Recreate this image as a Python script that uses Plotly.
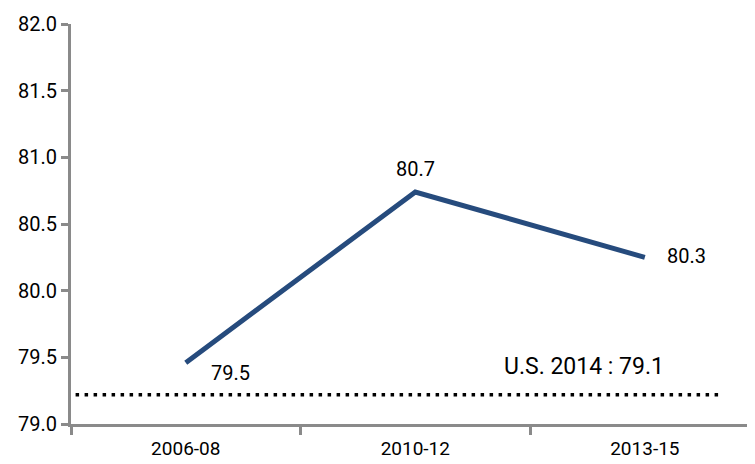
import plotly.graph_objects as go

periods = ["2006-08", "2010-12", "2013-15"]
life_exp = [79.46, 80.74, 80.25]
value_labels = ["79.5", "80.7", "80.3"]
us_value = 79.22
us_label = "U.S. 2014 : 79.1"
y_ticks = [79.0, 79.5, 80.0, 80.5, 81.0, 81.5, 82.0]

FONT = "Roboto, Liberation Sans, sans-serif"
AXIS = "#8a8a8a"

xs = list(range(len(periods)))

fig = go.Figure()
fig.add_trace(go.Scatter(
    x=xs, y=life_exp, mode="lines",
    line=dict(color="#264b7d", width=5),
    hoverinfo="skip", showlegend=False,
))

# US reference dotted line
fig.add_shape(type="line", xref="x", yref="y",
              x0=-0.48, x1=2.33, y0=us_value, y1=us_value,
              line=dict(color="black", width=3.5, dash="3.5px,5.5px"))

# data labels
offsets = [(45, 10), (0, -23), (42, -1)]
for x, y, t, (dx, dy) in zip(xs, life_exp, value_labels, offsets):
    fig.add_annotation(x=x, y=y, text=t, showarrow=False,
                       xshift=dx, yshift=-dy,
                       font=dict(family=FONT, size=20, color="black"))

fig.add_annotation(x=1.735, y=us_value, text=us_label, showarrow=False,
                   yshift=28, font=dict(family=FONT, size=23, color="black"))

fig.update_layout(
    width=747, height=456, autosize=False,
    margin=dict(l=63, r=0, t=16, b=40),
    plot_bgcolor="white", paper_bgcolor="white",
    font=dict(family=FONT, size=19, color="black"),
    xaxis=dict(
        range=[-0.5, 2.48], tickvals=xs, ticktext=periods,
        ticks="", showgrid=False, zeroline=False,
        showline=True, linecolor=AXIS, linewidth=3,
        tickfont=dict(family=FONT, size=19),
        ticklabelstandoff=5,
        minor=dict(tickvals=[-0.5, 0.5, 1.5], ticks="outside",
                   ticklen=8, tickwidth=3, tickcolor=AXIS, showgrid=False),
    ),
    yaxis=dict(
        range=[79, 82], tickvals=y_ticks, tickformat=".1f",
        ticks="outside", ticklen=7, tickwidth=3, tickcolor=AXIS,
        showgrid=False, zeroline=False,
        showline=True, linecolor=AXIS, linewidth=3,
        tickfont=dict(family=FONT, size=20),
    ),
)

fig.write_html("out.html")
